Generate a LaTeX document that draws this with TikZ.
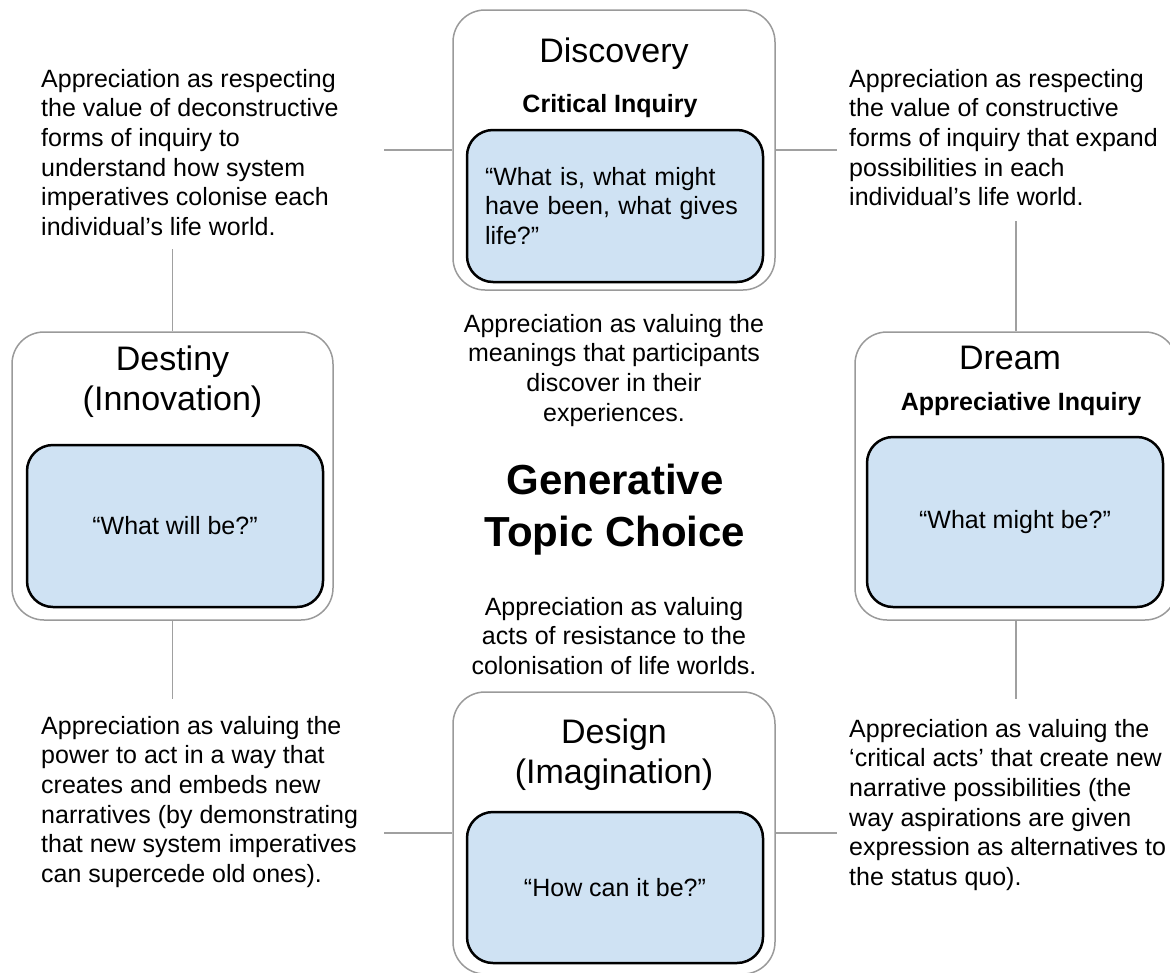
\documentclass[tikz,border=0pt]{standalone}
\usepackage{fontspec}
\setmainfont{Liberation Sans}
\usetikzlibrary{positioning}
\definecolor{boxblue}{HTML}{CFE2F3}
\definecolor{rimgray}{HTML}{9A9A9A}
\definecolor{linkgray}{HTML}{A0A0A0}

\begin{document}
\begin{tikzpicture}[
                    x=1pt, y=-1pt,
                    node distance=60pt,
                    outer/.style={draw=rimgray, line width=1.5pt, rounded corners=32pt, fill=white},
                    inner/.style={draw=black, line width=2.5pt, rounded corners=26pt, fill=boxblue, minimum width=296pt, font=\fontsize{25}{29.6}\selectfont},
                    title/.style={inner sep=0pt, align=center, font=\fontsize{34}{40}\selectfont},
                    sub/.style={inner sep=0pt, font=\fontsize{25}{29.6}\selectfont\bfseries},
                    note/.style={inner sep=0pt, align=left, font=\fontsize{25}{29.6}\selectfont},
                    link/.style={draw=linkgray, line width=1.5pt}
                    ]

                    \useasboundingbox (0,0) rectangle (1170,972);
                    \clip (0,0) rectangle (1170,972);

                    % the four phases
                    \node [outer, minimum width=322pt, minimum height=280pt] (phase1) at (614,150) {};
                    \node [outer, minimum width=321pt, minimum height=288pt] (phase2) at (172.5,476) {};
                    \node [outer, minimum width=322pt, minimum height=288pt] (phase3) at (1016,476) {};
                    \node [outer, minimum width=322pt, minimum height=282pt] (phase4) at (614,833) {};

                    \node [title, anchor=north] (title1) at (614,37.5) {Discovery};
                    \node [sub, anchor=north] (sub1) at (610,94) {Critical Inquiry};
                    \node [title, anchor=north] (title2) at (172.5,345.5) {Destiny\\(Innovation)};
                    \node [title, anchor=north] (title3) at (1010,345.5) {Dream};
                    \node [sub, anchor=north] (sub3) at (1021,392) {Appreciative Inquiry};
                    \node [title, anchor=north] (title4) at (614,718.5) {Design\\(Imagination)};

                    \node [inner, minimum height=152pt, text width=260pt, inner sep=18pt, align=left] (q1) at (615,206) {“What is, what might have been, what gives life?”};
                    \node [inner, minimum height=162pt] (q2) at (175,526) {“What will be?”};
                    \node [inner, minimum height=170pt] (q3) at (1015,522) {“What might be?”};
                    \node [inner, minimum height=151pt] (q4) at (615,887.5) {“How can it be?”};

                    % texts
                    \node [note, anchor=north west] (note1) at (41,69) {Appreciation as respecting\\the value of deconstructive\\forms of inquiry to\\understand how system\\imperatives colonise each\\individual’s life world.};
                    \node [note, anchor=north west] (note2) at (849,69) {Appreciation as respecting\\the value of constructive\\forms of inquiry that expand\\possibilities in each\\individual’s life world.};
                    \node [note, anchor=north west] (note3) at (41,716) {Appreciation as valuing the\\power to act in a way that\\creates and embeds new\\narratives (by demonstrating\\that new system imperatives\\can supercede old ones).};
                    \node [note, anchor=north west] (note4) at (849,719) {Appreciation as valuing the\\‘critical acts’ that create new\\narrative possibilities (the\\way aspirations are given\\expression as alternatives to\\the status quo).};
                    \node [note, align=center, anchor=north] (note5) at (614,314) {Appreciation as valuing the\\meanings that participants\\discover in their\\experiences.};
                    \node [inner sep=0pt, align=center, anchor=north, font=\fontsize{42}{52}\selectfont\bfseries] (topic) at (615,464) {Generative\\Topic Choice};
                    \node [note, align=center, anchor=north] (note6) at (614,597) {Appreciation as valuing\\acts of resistance to the\\colonisation of life worlds.};

                    % free ends of the connectors
                    \node [coordinate, left=68pt of phase1] (node1) {};
                    \node [coordinate, right=61pt of phase1] (node2) {};
                    \node [coordinate, above=82pt of phase2] (node3) {};
                    \node [coordinate, above=110pt of phase3] (node4) {};
                    \node [coordinate, below=78pt of phase2] (node5) {};
                    \node [coordinate, below=78pt of phase3] (node6) {};
                    \node [coordinate, left=68pt of phase4] (node7) {};
                    \node [coordinate, right=61pt of phase4] (node8) {};

                    \draw[link] (node1) -- (phase1);
                    \draw[link] (phase1) -- (node2);
                    \draw[link] (node3) -- (phase2);
                    \draw[link] (node4) -- (phase3);
                    \draw[link] (phase2) -- (node5);
                    \draw[link] (phase3) -- (node6);
                    \draw[link] (node7) -- (phase4);
                    \draw[link] (phase4) -- (node8);

                \end{tikzpicture}
\end{document}
